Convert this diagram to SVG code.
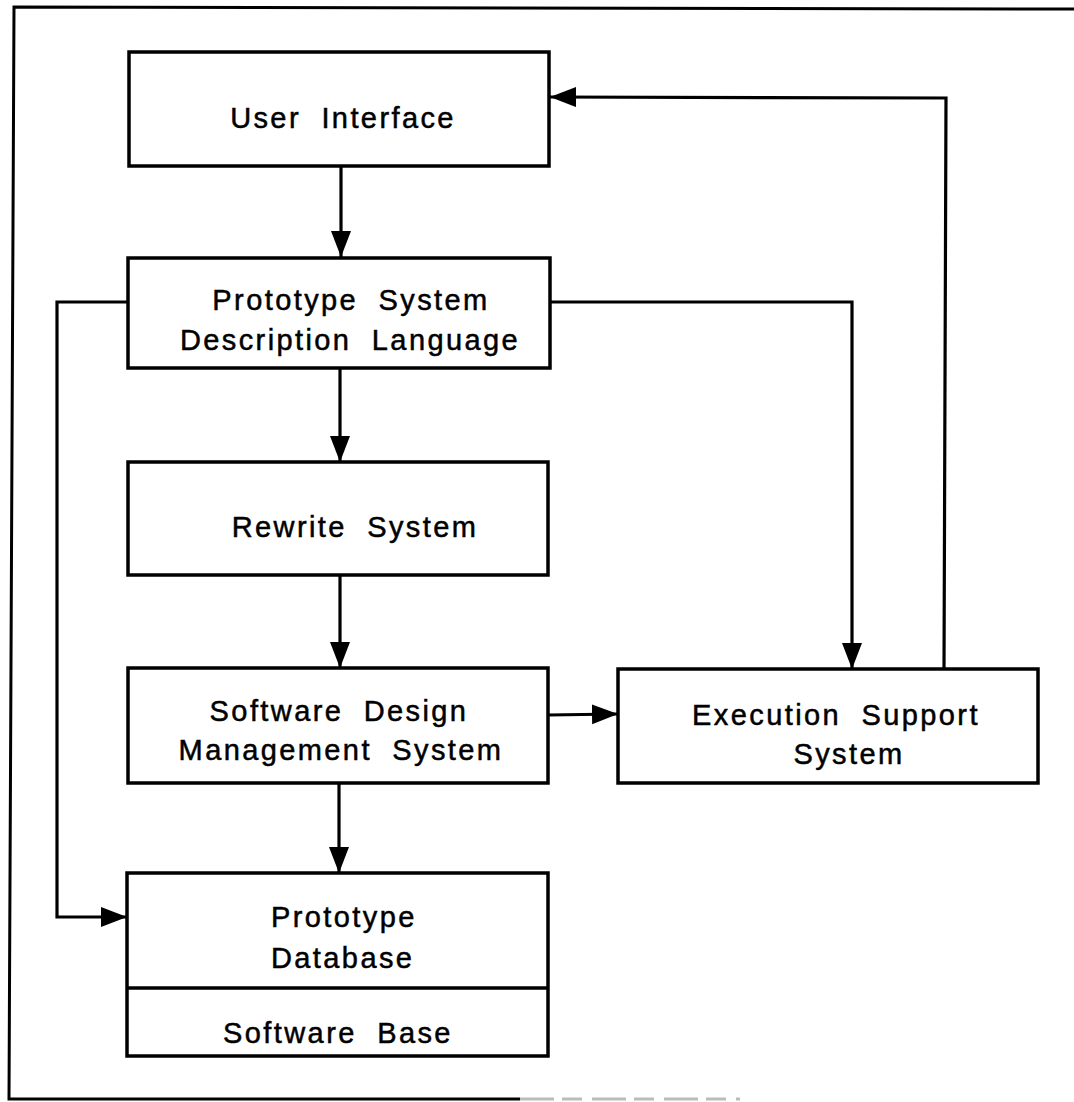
<svg xmlns="http://www.w3.org/2000/svg" width="1074" height="1102" viewBox="0 0 1074 1102">
  <defs>
    <style>
      .box { fill: #fff; stroke: #000; stroke-width: 3.5; stroke-linejoin: miter; }
      .wire { fill: none; stroke: #000; stroke-width: 3.2; stroke-linejoin: miter; }
      .frame { fill: none; stroke: #000; stroke-width: 3; }
      .faint { fill: none; stroke: #bbb; stroke-width: 3; stroke-dasharray: 34 8 20 10; }
      text { font-family: "Liberation Sans", Arial, sans-serif; font-size: 29px; fill: #000;
             stroke: #000; stroke-width: 0.5; letter-spacing: 2.4px; word-spacing: 10px; }
      .mid { text-anchor: middle; }
    </style>
    <marker id="arrow" markerUnits="userSpaceOnUse" markerWidth="27" markerHeight="21"
            refX="26" refY="10" orient="auto">
      <path d="M0,0 L26,10 L0,20 Z" fill="#000"/>
    </marker>
  </defs>

  <rect width="1074" height="1102" fill="#fff"/>

  <!-- outer frame (open on the right) -->
  <g id="frame">
    <path class="frame" d="M1074,9 L14,7 L9,1099 L520,1099"/>
    <path class="faint" d="M520,1099 L740,1099"/>
  </g>

  <!-- connectors -->
  <g id="connectors">
    <path class="wire" d="M341,166 L341,257" marker-end="url(#arrow)"/>
    <path class="wire" d="M340,368 L340,462" marker-end="url(#arrow)"/>
    <path class="wire" d="M340,575 L340,668" marker-end="url(#arrow)"/>
    <path class="wire" d="M339,783 L339,873" marker-end="url(#arrow)"/>
    <path class="wire" d="M548,715 L618,714" marker-end="url(#arrow)"/>
    <path class="wire" d="M128,302 L57,302 L57,917 L127,917" marker-end="url(#arrow)"/>
    <path class="wire" d="M550,302 L852,302 L852,669" marker-end="url(#arrow)"/>
    <path class="wire" d="M944,669 L946,98 L550,97" marker-end="url(#arrow)"/>
  </g>

  <g id="user-interface">
    <rect class="box" x="129" y="52" width="420" height="114"/>
    <text class="mid" x="343" y="128">User Interface</text>
  </g>

  <g id="psdl">
    <rect class="box" x="128" y="258" width="422" height="110"/>
    <text class="mid" x="351" y="310">Prototype System</text>
    <text class="mid" x="350" y="350">Description Language</text>
  </g>

  <g id="rewrite-system">
    <rect class="box" x="128" y="462" width="420" height="113"/>
    <text class="mid" x="355" y="537">Rewrite System</text>
  </g>

  <g id="sdms">
    <rect class="box" x="128" y="668" width="420" height="115"/>
    <text class="mid" x="339" y="721">Software Design</text>
    <text class="mid" x="341" y="760">Management System</text>
  </g>

  <g id="execution-support">
    <rect class="box" x="618" y="669" width="420" height="114"/>
    <text class="mid" x="836" y="725">Execution Support</text>
    <text class="mid" x="849" y="764">System</text>
  </g>

  <g id="prototype-database">
    <rect class="box" x="127" y="873" width="421" height="183"/>
    <line class="box" x1="127" y1="988" x2="548" y2="988"/>
    <text x="271" y="927">Prototype</text>
    <text x="271" y="968">Database</text>
    <text class="mid" x="338" y="1043">Software Base</text>
  </g>
</svg>
